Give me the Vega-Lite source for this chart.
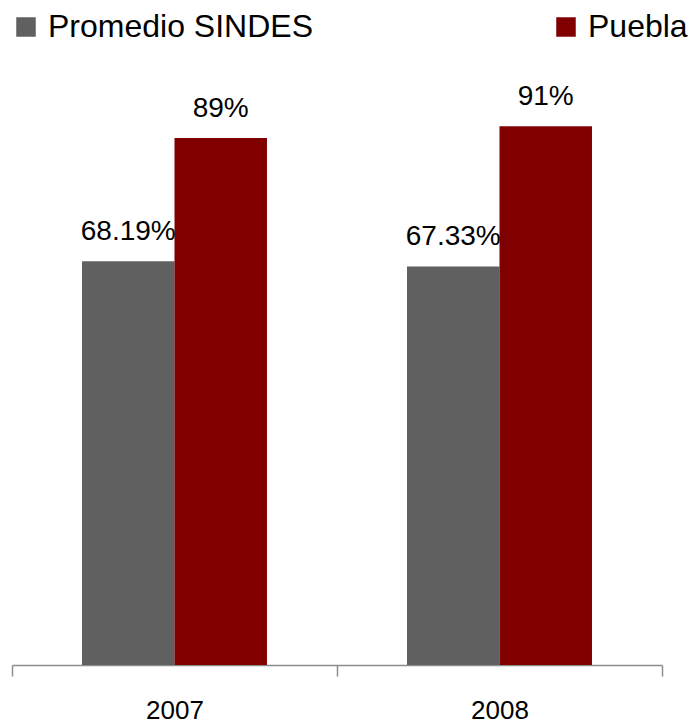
{
  "$schema": "https://vega.github.io/schema/vega-lite/v6.json",
  "width": 650,
  "height": 592,
  "autosize": {"type": "none"},
  "padding": {"left": 12, "top": 73, "right": 37, "bottom": 59},
  "background": "white",
  "config": {"view": {"stroke": null}, "font": "Liberation Sans"},
  "data": {"values": [
    {"year": "2007", "serie": "Promedio SINDES", "value": 68.19, "label": "68.19%"},
    {"year": "2007", "serie": "Puebla", "value": 89, "label": "89%"},
    {"year": "2008", "serie": "Promedio SINDES", "value": 67.33, "label": "67.33%"},
    {"year": "2008", "serie": "Puebla", "value": 91, "label": "91%"}
  ]},
  "encoding": {
    "x": {"field": "year", "type": "nominal",
      "scale": {"paddingInner": 0, "paddingOuter": 0},
      "axis": {"title": null, "labelAngle": 0, "labelFontSize": 26, "labelColor": "#000000",
        "labelFont": "Liberation Sans", "labelBaseline": "alphabetic", "labelPadding": 42, "tickSize": 11, "tickBand": "extent",
        "domainColor": "#8c8c8c", "tickColor": "#8c8c8c", "domainWidth": 1.5, "tickWidth": 1.5}},
    "xOffset": {"field": "serie", "type": "nominal", "scale": {"paddingInner": 0, "paddingOuter": 0.757}},
    "y": {"field": "value", "type": "quantitative", "scale": {"domain": [0, 100], "nice": false}, "axis": null}
  },
  "layer": [
    {"mark": {"type": "bar"},
     "encoding": {"color": {"field": "serie", "type": "nominal",
       "scale": {"domain": ["Promedio SINDES", "Puebla"], "range": ["#606060", "#800000"]},
       "legend": {"title": null, "orient": "none", "legendX": -2, "legendY": -62, "direction": "horizontal",
         "symbolType": "square", "symbolSize": 380, "symbolStrokeWidth": 0, "labelFontSize": 32,
         "labelFont": "Liberation Sans", "labelColor": "#000000", "labelOffset": 6, "columnPadding": 237,
         "labelLimit": 400}}}},
    {"mark": {"type": "text", "baseline": "bottom", "dy": -15, "fontSize": 28, "color": "#000000", "font": "Liberation Sans"},
     "encoding": {"text": {"field": "label"}}}
  ]
}
